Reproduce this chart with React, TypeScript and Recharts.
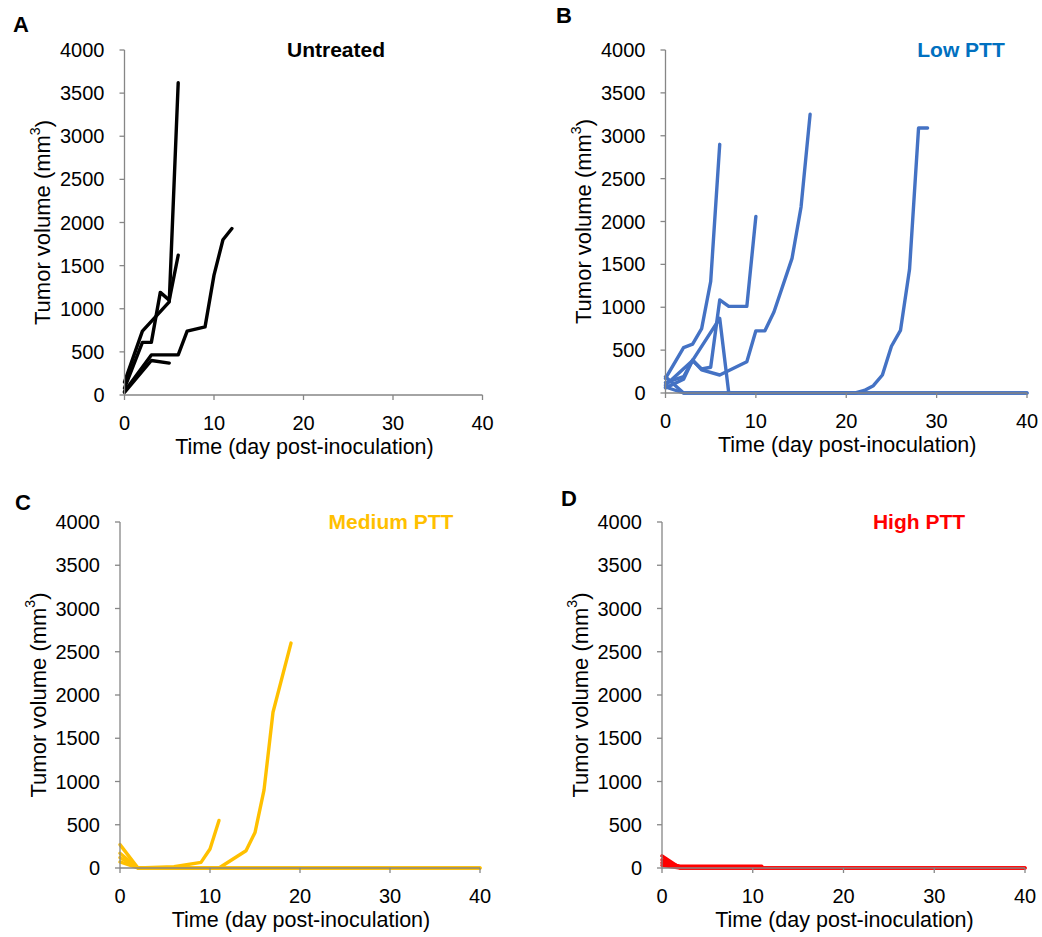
import React from 'react';
import { LineChart, Line, XAxis, YAxis } from 'recharts';

const FONT = '"Liberation Sans", Arial, Helvetica, sans-serif';

const volumeTicks = [0, 500, 1000, 1500, 2000, 2500, 3000, 3500, 4000];
const dayTicks = [0, 10, 20, 30, 40];

// A - untreated (one array per mouse, aligned with the day list, null = not measured)
const untreatedDays = [0, 2, 3, 4, 5, 6, 7, 9, 10, 11, 12];
const untreated1 = [150, 740, null, null, 1080, 3620, null, null, null, null, null];
const untreated2 = [80, 610, 610, 1190, 1100, 1620, null, null, null, null, null];
const untreated3 = [40, null, 465, null, null, 465, 740, 790, 1390, 1800, 1930];
const untreated4 = [30, null, 400, null, 370, null, null, null, null, null, null];

// B - low PTT
const lowDays = [0, 2, 3, 4, 5, 6, 7, 9, 10, 11, 12, 14, 15, 16, 21, 22, 23, 24, 25, 26, 27, 28, 29, 40];
const low1 = [170, 530, 570, 750, 1300, 2900, null, null, null, null, null, null, null, null, null, null, null, null, null, null, null, null, null, null];
const low2 = [120, 190, 380, 280, 300, 1085, 1010, 1010, 2060, null, null, null, null, null, null, null, null, null, null, null, null, null, null, null];
const low3 = [60, 160, 385, 270, null, 210, null, 365, 725, 725, 945, 1570, 2170, 3250, null, null, null, null, null, null, null, null, null, null];
const low4 = [90, null, 380, null, null, 870, 0, null, null, null, null, null, null, null, null, null, null, null, null, null, null, null, null, 0];
const low5 = [70, 0, null, null, null, null, null, null, null, null, null, null, null, null, 0, 30, 85, 210, 545, 730, 1440, 3090, 3090, null];
const low6 = [190, 0, null, null, null, null, null, null, null, null, null, null, null, null, null, null, null, null, null, null, null, null, null, 0];

// C - medium PTT
const mediumDays = [0, 2, 6, 9, 10, 11, 14, 15, 16, 17, 19, 40];
const medium1 = [270, 0, 15, 65, 220, 550, null, null, null, null, null, null];
const medium2 = [170, 0, null, null, null, 0, 200, 410, 900, 1800, 2600, null];
const medium3 = [70, 0, null, null, null, null, null, null, null, null, null, 0];
const medium4 = [120, 0, null, null, null, null, null, null, null, null, null, 0];

// D - high PTT
const highDays = [0, 2, 11, 40];
const high1 = [140, 0, null, 0];
const high2 = [95, 10, 10, null];
const high3 = [60, 20, 20, null];
const high4 = [30, 0, null, 0];

const Y_W = 100;
const X_H = 65;

interface PanelProps {
  box: { x: number; y: number; w: number; h: number };
  plot: { left: number; top: number; right: number; bottom: number };
  days: number[];
  series: (number | null)[][];
  color: string;
}

const Panel: React.FC<PanelProps> = ({ box, plot, days, series, color }) => {
  const data = days.map((day, i) => {
    const row: Record<string, number | null> = { day };
    series.forEach((s, k) => {
      row[`m${k}`] = s[i];
    });
    return row;
  });
  const axisX = plot.left - box.x;
  const axisY = plot.bottom - box.y;
  const midX = (plot.left + plot.right) / 2 - box.x;
  const midY = (plot.top + plot.bottom) / 2 - box.y;
  const tickStyle = { fill: '#000', fontSize: 20, fontFamily: FONT };

  return (
    <div style={{ position: 'absolute', left: box.x, top: box.y }}>
      <LineChart
        width={box.w}
        height={box.h}
        data={data}
        margin={{
          top: plot.top - box.y,
          right: box.x + box.w - plot.right,
          bottom: box.y + box.h - plot.bottom - X_H,
          left: plot.left - box.x - Y_W,
        }}
      >
        <XAxis
          dataKey="day"
          type="number"
          domain={[0, 40]}
          ticks={dayTicks}
          height={X_H}
          stroke="#868686"
          strokeWidth={1.3}
          tickSize={5}
          tickMargin={16}
          tick={tickStyle}
          label={{
            content: () => (
              <text x={midX + 1} y={axisY + 59} textAnchor="middle" fontSize={21.5} fontFamily={FONT} fill="#000">
                Time (day post-inoculation)
              </text>
            ),
          }}
        />
        <YAxis
          type="number"
          domain={[0, 4000]}
          ticks={volumeTicks}
          width={Y_W}
          stroke="#868686"
          strokeWidth={1.3}
          tickSize={5}
          tickMargin={15}
          tick={tickStyle}
          label={{
            content: () => (
              <text
                x={axisX - 82}
                y={midY}
                transform={`rotate(-90, ${axisX - 82}, ${midY})`}
                textAnchor="middle"
                dominantBaseline="central"
                fontSize={22}
                fontFamily={FONT}
                fill="#000"
              >
                Tumor volume (mm
                <tspan dy={-8} fontSize={14}>3</tspan>
                <tspan dy={8}>)</tspan>
              </text>
            ),
          }}
        />
        {series.map((_, k) => (
          <Line
            key={k}
            type="linear"
            dataKey={`m${k}`}
            stroke={color}
            strokeWidth={3.4}
            strokeLinecap="round"
            strokeLinejoin="round"
            dot={false}
            activeDot={false}
            connectNulls
            isAnimationActive={false}
          />
        ))}
      </LineChart>
    </div>
  );
};

const App: React.FC = () => {
  const letter = { fontSize: 22, fontWeight: 700, fontFamily: FONT, fill: '#000' };
  const title = { fontSize: 21, fontWeight: 700, fontFamily: FONT, textAnchor: 'middle' as const };
  return (
    <div style={{ position: 'absolute', left: 0, top: 0, width: 1042, height: 937, background: '#fff' }}>
      <Panel
        box={{ x: 0, y: 0, w: 521, h: 468 }}
        plot={{ left: 124.5, top: 50, right: 482.5, bottom: 395 }}
        days={untreatedDays}
        series={[untreated1, untreated2, untreated3, untreated4]}
        color="#000000"
      />
      <Panel
        box={{ x: 521, y: 0, w: 521, h: 468 }}
        plot={{ left: 665.5, top: 50, right: 1027, bottom: 393 }}
        days={lowDays}
        series={[low1, low2, low3, low4, low5, low6]}
        color="#4472C4"
      />
      <Panel
        box={{ x: 0, y: 468, w: 521, h: 469 }}
        plot={{ left: 120, top: 522, right: 480, bottom: 868 }}
        days={mediumDays}
        series={[medium1, medium2, medium3, medium4]}
        color="#FFC000"
      />
      <Panel
        box={{ x: 521, y: 468, w: 521, h: 469 }}
        plot={{ left: 662, top: 522, right: 1025, bottom: 868 }}
        days={highDays}
        series={[high1, high2, high3, high4]}
        color="#FF0000"
      />
      <svg width={1042} height={937} style={{ position: 'absolute', left: 0, top: 0, pointerEvents: 'none' }}>
        <text x={13} y={32} {...letter}>A</text>
        <text x={556} y={23} {...letter}>B</text>
        <text x={15} y={510} {...letter}>C</text>
        <text x={561} y={506} {...letter}>D</text>
        <text x={336} y={57} {...title} fill="#000">Untreated</text>
        <text x={961} y={57} {...title} fill="#0070C0">Low PTT</text>
        <text x={391} y={529} {...title} fill="#FFC000">Medium PTT</text>
        <text x={919} y={529} {...title} fill="#FF0000">High PTT</text>
      </svg>
    </div>
  );
};

export default App;
